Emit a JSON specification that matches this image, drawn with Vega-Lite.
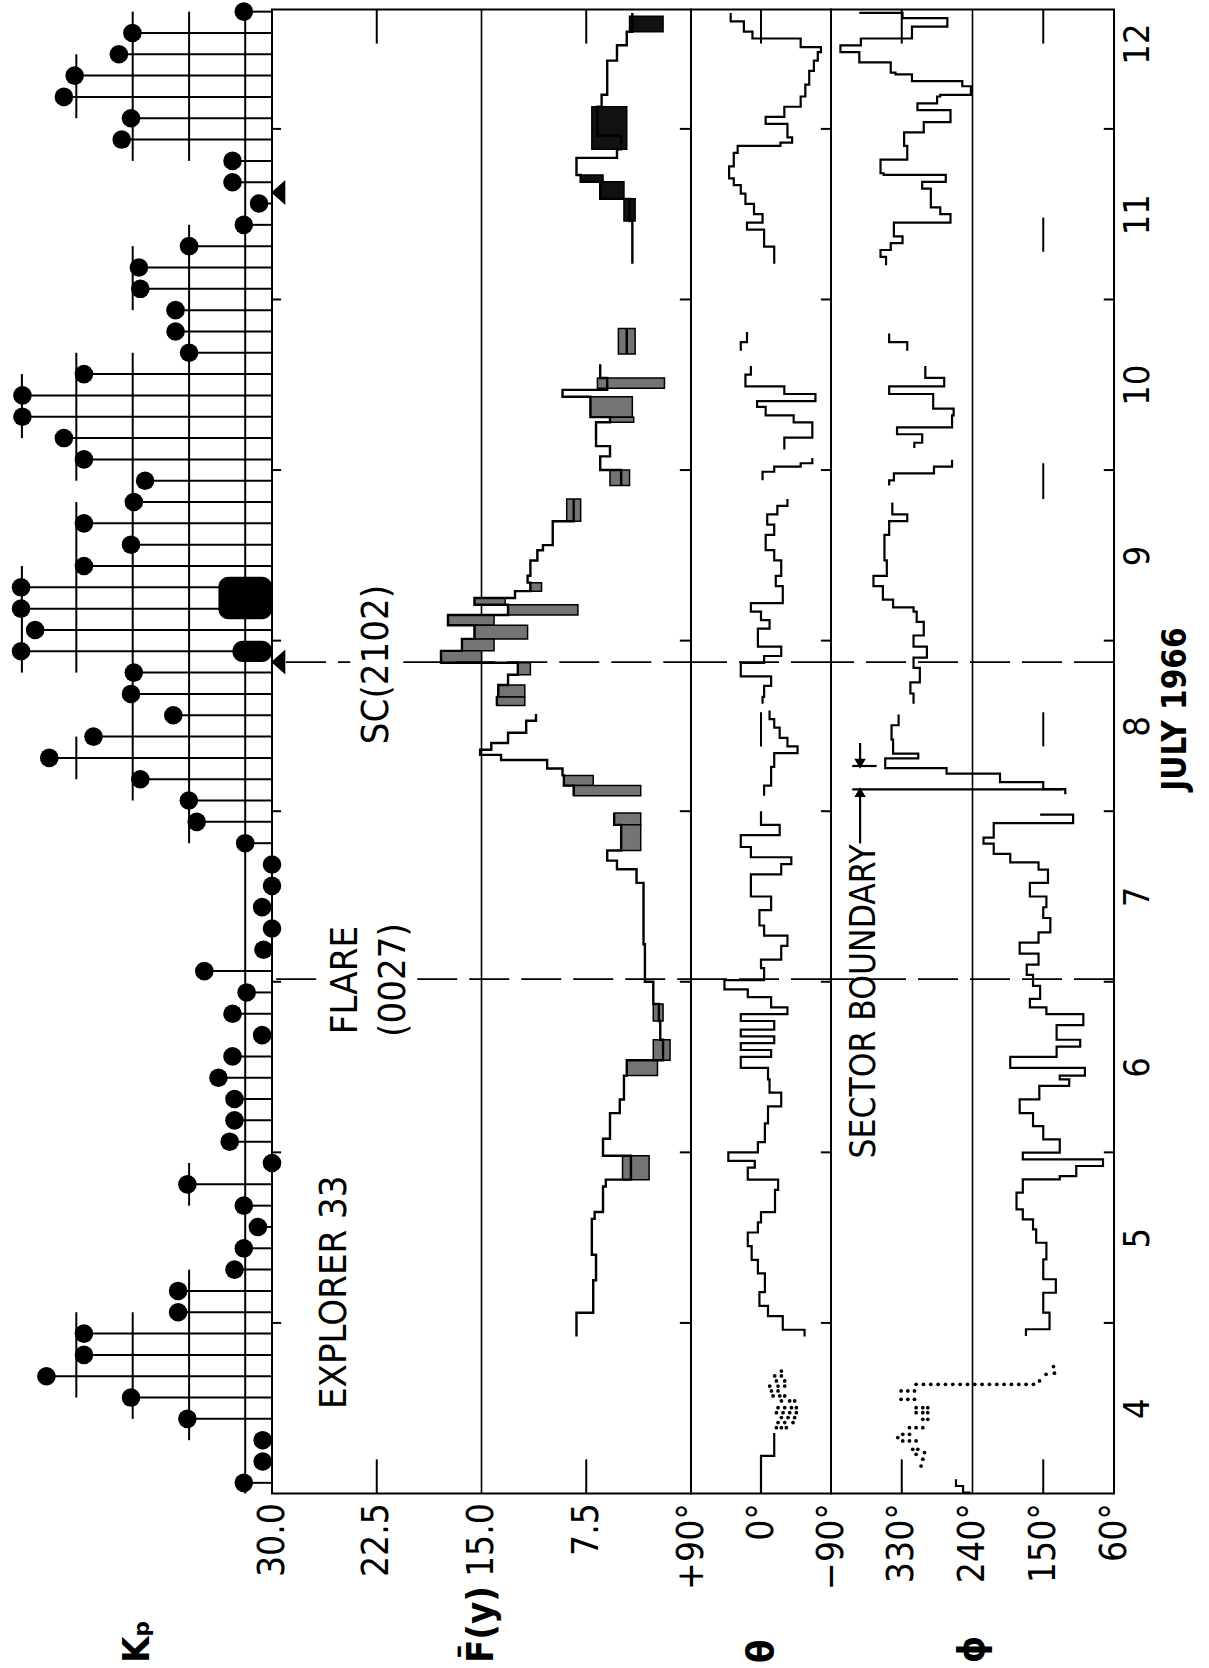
{
  "$schema": "https://vega.github.io/schema/vega-lite/v6.json",
  "background": "white",
  "padding": {"left": 3, "top": 1.5, "right": 5, "bottom": 2},
  "bounds": "flush",
  "spacing": 0,
  "config": {
    "font": "DejaVu Sans Condensed, DejaVu Sans, sans-serif",
    "view": {"stroke": null},
    "axis": {
      "grid": false, "ticks": false, "domain": false,
      "labelColor": "black", "titleColor": "black",
      "labelFontSize": 37, "titleFontSize": 38, "titleFontWeight": "bold",
      "labelFlush": false, "labelOverlap": false, "labelBound": false
    }
  },
  "datasets": {
    "kp": [
      {"d":3.5625,"kp":1},{"d":3.6875,"kp":0.33},{"d":3.8125,"kp":0.33},{"d":3.9375,"kp":3},{"d":4.0625,"kp":5},
      {"d":4.1875,"kp":8},{"d":4.3125,"kp":6.67},{"d":4.4375,"kp":6.67},{"d":4.5625,"kp":3.33},{"d":4.6875,"kp":3.33},
      {"d":4.8125,"kp":1.33},{"d":4.9375,"kp":1},{"d":5.0625,"kp":0.5},{"d":5.1875,"kp":1},{"d":5.3125,"kp":3},
      {"d":5.4375,"kp":0},{"d":5.5625,"kp":1.5},{"d":5.6875,"kp":1.33},{"d":5.8125,"kp":1.33},{"d":5.9375,"kp":1.9},
      {"d":6.0625,"kp":1.4},{"d":6.1875,"kp":0.35},{"d":6.3125,"kp":1.4},{"d":6.4375,"kp":0.9},{"d":6.5625,"kp":2.4},
      {"d":6.6875,"kp":0.3},{"d":6.8125,"kp":0},{"d":6.9375,"kp":0.35},{"d":7.0625,"kp":0},{"d":7.1875,"kp":0},
      {"d":7.3125,"kp":0.95},{"d":7.4375,"kp":2.67},{"d":7.5625,"kp":2.95},{"d":7.6875,"kp":4.67},{"d":7.8125,"kp":7.9},
      {"d":7.9375,"kp":6.33},{"d":8.0625,"kp":3.5},{"d":8.1875,"kp":5},{"d":8.3125,"kp":4.9},{"d":8.4375,"kp":8.9},
      {"d":8.5625,"kp":8.4},{"d":8.6875,"kp":8.9},{"d":8.8125,"kp":8.9},{"d":8.9375,"kp":6.67},{"d":9.0625,"kp":5},
      {"d":9.1875,"kp":6.67},{"d":9.3125,"kp":4.9},{"d":9.4375,"kp":4.5},{"d":9.5625,"kp":6.67},{"d":9.6875,"kp":7.38},
      {"d":9.8125,"kp":8.85},{"d":9.9375,"kp":8.85},{"d":10.0625,"kp":6.67},{"d":10.1875,"kp":2.94},{"d":10.3125,"kp":3.42},
      {"d":10.4375,"kp":3.42},{"d":10.5625,"kp":4.67},{"d":10.6875,"kp":4.72},{"d":10.8125,"kp":2.94},{"d":10.9375,"kp":1},
      {"d":11.0625,"kp":0.46},{"d":11.1875,"kp":1.4},{"d":11.3125,"kp":1.4},{"d":11.4375,"kp":5.33},{"d":11.5625,"kp":5},
      {"d":11.6875,"kp":7.38},{"d":11.8125,"kp":7},{"d":11.9375,"kp":5.43},{"d":12.0625,"kp":4.95},{"d":12.1875,"kp":1}
    ],
    "kpgrid": [
      {"lev":0.95,"d0":3.5,"d1":12.2},
      {"lev":2.94,"d0":3.8125,"d1":4.8125},{"lev":2.94,"d0":5.1875,"d1":5.4375},{"lev":2.94,"d0":7.3125,"d1":10.9375},{"lev":2.94,"d0":11.3125,"d1":12.1875},
      {"lev":4.94,"d0":3.9375,"d1":4.5625},{"lev":4.94,"d0":7.5625,"d1":10.1875},{"lev":4.94,"d0":10.4375,"d1":10.8125},{"lev":4.94,"d0":11.3125,"d1":12.1875},
      {"lev":6.94,"d0":4.0625,"d1":4.5625},{"lev":6.94,"d0":7.6875,"d1":7.9375},{"lev":6.94,"d0":8.3125,"d1":9.3125},{"lev":6.94,"d0":9.4375,"d1":10.1875},{"lev":6.94,"d0":11.5625,"d1":11.9375},
      {"lev":8.87,"d0":8.3125,"d1":8.9375},{"lev":8.87,"d0":9.6875,"d1":10.0625}
    ],
    "kpblob": [{"d0":8.625,"d1":8.875,"kp":1.9},{"d0":8.375,"d1":8.5,"kp":1.4}],
    "halfdays": [{"d":4.5},{"d":5.5},{"d":6.5},{"d":7.5},{"d":8.5},{"d":9.5},{"d":10.5},{"d":11.5}],
    "events": [{"d":6.515},{"d":8.374}],
    "fline": [
      {"s":"A","d":10.71,"v":4.2},{"s":"A","d":10.96,"v":4.4},{"s":"A","d":11.09,"v":6.5},{"s":"A","d":11.19,"v":7.9},{"s":"A","d":11.23,"v":8.2},
      {"s":"A","d":11.33,"v":5.3},{"s":"A","d":11.38,"v":5.0},{"s":"A","d":11.46,"v":6.7},{"s":"A","d":11.63,"v":6.4},{"s":"A","d":11.70,"v":6.0},
      {"s":"A","d":11.90,"v":5.3},{"s":"A","d":11.99,"v":4.6},{"s":"A","d":12.07,"v":4.2},{"s":"A","d":12.18,"v":4.2},
      {"s":"B1","d":10.18,"v":4.6},{"s":"B1","d":10.33,"v":4.6},
      {"s":"B2","d":9.41,"v":5.0},{"s":"B2","d":9.50,"v":6.5},{"s":"B2","d":9.58,"v":5.8},{"s":"B2","d":9.64,"v":6.8},{"s":"B2","d":9.78,"v":5.8},
      {"s":"B2","d":9.81,"v":7.2},{"s":"B2","d":9.93,"v":9.2},{"s":"B2","d":9.97,"v":6.0},{"s":"B2","d":10.04,"v":6.5},{"s":"B2","d":10.12,"v":6.5},
      {"s":"C","d":8.12,"v":13.9},{"s":"C","d":8.17,"v":13.8},{"s":"C","d":8.24,"v":13.1},{"s":"C","d":8.30,"v":12.4},{"s":"C","d":8.37,"v":17.9},
      {"s":"C","d":8.44,"v":16.4},{"s":"C","d":8.51,"v":15.5},{"s":"C","d":8.59,"v":17.4},{"s":"C","d":8.65,"v":13.1},{"s":"C","d":8.71,"v":15.5},
      {"s":"C","d":8.75,"v":12.6},{"s":"C","d":8.79,"v":11.5},{"s":"C","d":8.84,"v":11.7},{"s":"C","d":8.88,"v":11.5},{"s":"C","d":8.97,"v":11.0},
      {"s":"C","d":9.03,"v":10.6},{"s":"C","d":9.06,"v":9.9},{"s":"C","d":9.20,"v":8.4},{"s":"C","d":9.33,"v":8.4},
      {"s":"D","d":7.59,"v":8.4},{"s":"D","d":7.65,"v":9.1},{"s":"D","d":7.71,"v":9.2},{"s":"D","d":7.75,"v":10.3},{"s":"D","d":7.80,"v":13.6},
      {"s":"D","d":7.83,"v":15.1},{"s":"D","d":7.86,"v":14.3},{"s":"D","d":7.90,"v":13.1},{"s":"D","d":7.96,"v":11.8},{"s":"D","d":8.03,"v":11.1},{"s":"D","d":8.07,"v":11.1},
      {"s":"E","d":4.42,"v":8.2},{"s":"E","d":4.56,"v":7.0},{"s":"E","d":4.75,"v":6.8},{"s":"E","d":4.90,"v":7.1},{"s":"E","d":5.11,"v":6.9},
      {"s":"E","d":5.15,"v":6.3},{"s":"E","d":5.30,"v":6.1},{"s":"E","d":5.34,"v":4.3},{"s":"E","d":5.48,"v":6.3},{"s":"E","d":5.58,"v":5.8},
      {"s":"E","d":5.73,"v":5.1},{"s":"E","d":5.81,"v":4.8},{"s":"E","d":5.95,"v":4.6},{"s":"E","d":6.04,"v":2.0},{"s":"E","d":6.16,"v":2.2},
      {"s":"E","d":6.27,"v":2.3},{"s":"E","d":6.37,"v":2.7},{"s":"E","d":6.50,"v":3.3},{"s":"E","d":6.72,"v":3.4},{"s":"E","d":7.08,"v":3.9},
      {"s":"E","d":7.16,"v":5.3},{"s":"E","d":7.21,"v":6.0},{"s":"E","d":7.27,"v":5.0},{"s":"E","d":7.42,"v":5.5},{"s":"E","d":7.49,"v":5.5}
    ],
    "fhatch": [
      {"d0":12.07,"d1":12.16,"lo":2.0,"hi":4.4,"tone":"solid"},{"d0":11.38,"d1":11.63,"lo":4.6,"hi":7.1,"tone":"solid"},
      {"d0":11.19,"d1":11.23,"lo":6.3,"hi":7.9,"tone":"solid"},{"d0":11.09,"d1":11.19,"lo":4.8,"hi":6.5,"tone":"solid"},
      {"d0":10.96,"d1":11.09,"lo":4.0,"hi":4.8,"tone":"solid"},
      {"d0":10.18,"d1":10.33,"lo":4.0,"hi":5.2,"tone":"hatch"},{"d0":9.98,"d1":10.04,"lo":1.9,"hi":6.7,"tone":"hatch"},
      {"d0":9.81,"d1":9.93,"lo":4.2,"hi":7.2,"tone":"hatch"},{"d0":9.78,"d1":9.81,"lo":4.1,"hi":5.8,"tone":"hatch"},
      {"d0":9.41,"d1":9.50,"lo":4.4,"hi":5.8,"tone":"hatch"},{"d0":9.20,"d1":9.33,"lo":7.9,"hi":8.9,"tone":"hatch"},
      {"d0":8.79,"d1":8.84,"lo":10.7,"hi":11.5,"tone":"hatch"},{"d0":8.71,"d1":8.75,"lo":13.3,"hi":15.5,"tone":"hatch"},
      {"d0":8.65,"d1":8.71,"lo":8.1,"hi":13.1,"tone":"hatch"},{"d0":8.59,"d1":8.65,"lo":14.1,"hi":17.4,"tone":"hatch"},
      {"d0":8.51,"d1":8.59,"lo":11.7,"hi":15.5,"tone":"hatch"},{"d0":8.44,"d1":8.51,"lo":14.1,"hi":16.4,"tone":"hatch"},
      {"d0":8.37,"d1":8.44,"lo":15.0,"hi":17.9,"tone":"hatch"},{"d0":8.30,"d1":8.37,"lo":11.5,"hi":12.4,"tone":"hatch"},
      {"d0":8.17,"d1":8.24,"lo":11.9,"hi":13.8,"tone":"hatch"},{"d0":8.12,"d1":8.17,"lo":11.9,"hi":13.9,"tone":"hatch"},
      {"d0":7.65,"d1":7.71,"lo":7.0,"hi":9.1,"tone":"hatch"},{"d0":7.59,"d1":7.65,"lo":3.6,"hi":8.4,"tone":"hatch"},
      {"d0":7.42,"d1":7.49,"lo":3.6,"hi":5.5,"tone":"hatch"},{"d0":7.27,"d1":7.42,"lo":3.6,"hi":5.0,"tone":"hatch"},
      {"d0":6.27,"d1":6.37,"lo":2.0,"hi":2.7,"tone":"hatch"},{"d0":6.04,"d1":6.16,"lo":1.5,"hi":2.7,"tone":"hatch"},
      {"d0":5.95,"d1":6.04,"lo":2.4,"hi":4.6,"tone":"hatch"},{"d0":5.34,"d1":5.48,"lo":3.0,"hi":4.9,"tone":"hatch"}
    ],
    "fmarks": [
      {"v":22.5,"d0":3.5,"d1":3.7},{"v":22.5,"d0":12.0,"d1":12.2},{"v":7.5,"d0":3.5,"d1":3.7},{"v":7.5,"d0":12.0,"d1":12.2}
    ],
    "fdash": [
      {"d":6.515,"a":29.7,"b":26.3},{"d":6.515,"a":19.6,"b":0},{"d":8.374,"a":29.0,"b":24.4},{"d":8.374,"a":20.6,"b":0}
    ],
    "sctri": [{"d":8.374,"v":29.55},{"d":11.127,"v":29.55}],
    "ftext": [
      {"t":"EXPLORER 33","v":25.5,"d":4.68},{"t":"FLARE","v":24.7,"d":6.51},{"t":"(0027)","v":21.3,"d":6.51},{"t":"SC(2102)","v":22.5,"d":8.36}
    ],
    "tline": [
      {"s":"A","d":10.71,"v":-17},{"s":"A","d":10.81,"v":-4},{"s":"A","d":10.91,"v":18},{"s":"A","d":10.95,"v":-2},{"s":"A","d":11.00,"v":9},
      {"s":"A","d":11.06,"v":20},{"s":"A","d":11.12,"v":26},{"s":"A","d":11.17,"v":35},{"s":"A","d":11.21,"v":41},{"s":"A","d":11.28,"v":35},
      {"s":"A","d":11.36,"v":30},{"s":"A","d":11.40,"v":-25},{"s":"A","d":11.42,"v":-40},{"s":"A","d":11.45,"v":-34},{"s":"A","d":11.53,"v":-6},
      {"s":"A","d":11.57,"v":-30},{"s":"A","d":11.63,"v":-51},{"s":"A","d":11.69,"v":-57},{"s":"A","d":11.76,"v":-62},{"s":"A","d":11.84,"v":-68},
      {"s":"A","d":11.90,"v":-73},{"s":"A","d":11.95,"v":-77},{"s":"A","d":11.98,"v":-51},{"s":"A","d":12.03,"v":11},{"s":"A","d":12.07,"v":22},
      {"s":"A","d":12.13,"v":39},{"s":"A","d":12.18,"v":39},
      {"s":"B1","d":10.20,"v":26},{"s":"B1","d":10.25,"v":18},{"s":"B1","d":10.31,"v":18},
      {"s":"B2","d":9.62,"v":-30},{"s":"B2","d":9.69,"v":-66},{"s":"B2","d":9.78,"v":-42},{"s":"B2","d":9.82,"v":-6},{"s":"B2","d":9.87,"v":5},
      {"s":"B2","d":9.904,"v":-70},{"s":"B2","d":9.946,"v":-30},{"s":"B2","d":9.99,"v":20},{"s":"B2","d":10.06,"v":13},{"s":"B2","d":10.11,"v":13},
      {"s":"B3","d":9.44,"v":-2},{"s":"B3","d":9.49,"v":-17},{"s":"B3","d":9.52,"v":-51},{"s":"B3","d":9.54,"v":-66},{"s":"B3","d":9.57,"v":-66},
      {"s":"C","d":8.13,"v":-2},{"s":"C","d":8.17,"v":-4},{"s":"C","d":8.235,"v":-13},{"s":"C","d":8.29,"v":26},{"s":"C","d":8.37,"v":-4},
      {"s":"C","d":8.41,"v":-26},{"s":"C","d":8.465,"v":4},{"s":"C","d":8.57,"v":-11},{"s":"C","d":8.62,"v":0},{"s":"C","d":8.67,"v":13},
      {"s":"C","d":8.72,"v":-28},{"s":"C","d":8.82,"v":-19},{"s":"C","d":8.88,"v":-26},{"s":"C","d":8.97,"v":-17},{"s":"C","d":9.03,"v":-6},
      {"s":"C","d":9.12,"v":-17},{"s":"C","d":9.18,"v":-8},{"s":"C","d":9.24,"v":-21},{"s":"C","d":9.29,"v":-34},{"s":"C","d":9.33,"v":-34},
      {"s":"D","d":7.59,"v":-4},{"s":"D","d":7.65,"v":-13},{"s":"D","d":7.76,"v":-17},{"s":"D","d":7.84,"v":-47},{"s":"D","d":7.88,"v":-34},
      {"s":"D","d":7.93,"v":-24},{"s":"D","d":7.99,"v":-17},{"s":"D","d":8.04,"v":-11},{"s":"D","d":8.09,"v":-11},
      {"s":"E","d":4.42,"v":-56},{"s":"E","d":4.46,"v":-28},{"s":"E","d":4.54,"v":-9},{"s":"E","d":4.60,"v":2},{"s":"E","d":4.68,"v":-5},
      {"s":"E","d":4.79,"v":4},{"s":"E","d":4.87,"v":12},{"s":"E","d":4.95,"v":17},{"s":"E","d":5.03,"v":4},{"s":"E","d":5.09,"v":0},
      {"s":"E","d":5.15,"v":-18},{"s":"E","d":5.28,"v":-22},{"s":"E","d":5.34,"v":17},{"s":"E","d":5.41,"v":8},{"s":"E","d":5.45,"v":42},
      {"s":"E","d":5.50,"v":4},{"s":"E","d":5.56,"v":-5},{"s":"E","d":5.67,"v":-9},{"s":"E","d":5.77,"v":-26},{"s":"E","d":5.85,"v":-11},
      {"s":"E","d":5.928,"v":-9},{"s":"E","d":5.995,"v":26},{"s":"E","d":6.06,"v":-13},{"s":"E","d":6.10,"v":26},{"s":"E","d":6.14,"v":-17},
      {"s":"E","d":6.18,"v":26},{"s":"E","d":6.22,"v":-17},{"s":"E","d":6.27,"v":26},{"s":"E","d":6.31,"v":-34},{"s":"E","d":6.35,"v":-13},
      {"s":"E","d":6.41,"v":17},{"s":"E","d":6.455,"v":47},{"s":"E","d":6.51,"v":-4},{"s":"E","d":6.58,"v":0},{"s":"E","d":6.63,"v":-26},
      {"s":"E","d":6.71,"v":-34},{"s":"E","d":6.77,"v":-4},{"s":"E","d":6.83,"v":2},{"s":"E","d":6.92,"v":-13},{"s":"E","d":7.00,"v":13},
      {"s":"E","d":7.13,"v":-26},{"s":"E","d":7.19,"v":-39},{"s":"E","d":7.23,"v":13},{"s":"E","d":7.29,"v":26},{"s":"E","d":7.36,"v":-24},
      {"s":"E","d":7.42,"v":0},{"s":"E","d":7.50,"v":0},
      {"s":"F","d":3.50,"v":0},{"s":"F","d":3.72,"v":-17},{"s":"F","d":3.855,"v":-17}
    ],
    "tdots": [
      {"d":4.218,"v":-26.2},{"d":4.189,"v":-17.6},{"d":4.189,"v":-26.2},{"d":4.160,"v":-19.8},{"d":4.160,"v":-30.5},
      {"d":4.130,"v":-11.2},{"d":4.130,"v":-21.9},{"d":4.130,"v":-30.5},{"d":4.101,"v":-13.4},{"d":4.101,"v":-21.9},
      {"d":4.072,"v":-15.5},{"d":4.072,"v":-24.1},{"d":4.072,"v":-30.5},{"d":4.043,"v":-26.2},{"d":4.043,"v":-36.9},{"d":4.043,"v":-43.3},
      {"d":4.003,"v":-21.9},{"d":4.003,"v":-30.5},{"d":4.003,"v":-39.1},{"d":4.003,"v":-45.5},
      {"d":3.974,"v":-19.8},{"d":3.974,"v":-28.3},{"d":3.974,"v":-36.9},{"d":3.974,"v":-45.5},
      {"d":3.945,"v":-26.2},{"d":3.945,"v":-34.8},{"d":3.945,"v":-43.3},
      {"d":3.916,"v":-21.9},{"d":3.916,"v":-30.5},{"d":3.916,"v":-41.2},
      {"d":3.886,"v":-19.8},{"d":3.886,"v":-26.2},{"d":3.886,"v":-32.6}
    ],
    "tmarks": [{"v":0,"d0":3.5,"d1":3.7},{"v":0,"d0":12.0,"d1":12.2},{"v":0,"d0":7.88,"d1":8.08}],
    "pline": [
      {"s":"A","d":10.70,"v":350},{"s":"A","d":10.75,"v":357},{"s":"A","d":10.79,"v":344},{"s":"A","d":10.83,"v":329},{"s":"A","d":10.87,"v":340},
      {"s":"A","d":10.95,"v":268},{"s":"A","d":11.00,"v":281},{"s":"A","d":11.04,"v":293},{"s":"A","d":11.15,"v":304},{"s":"A","d":11.19,"v":274},
      {"s":"A","d":11.23,"v":353},{"s":"A","d":11.24,"v":357},{"s":"A","d":11.32,"v":323},{"s":"A","d":11.40,"v":327},{"s":"A","d":11.48,"v":302},
      {"s":"A","d":11.54,"v":268},{"s":"A","d":11.61,"v":310},{"s":"A","d":11.65,"v":285},{"s":"A","d":11.69,"v":281},{"s":"A","d":11.70,"v":242},
      {"s":"A","d":11.75,"v":253},{"s":"A","d":11.78,"v":317},{"s":"A","d":11.82,"v":338},{"s":"A","d":11.83,"v":344},{"s":"A","d":11.89,"v":384},
      {"s":"A","d":11.95,"v":408},{"s":"A","d":11.99,"v":382},{"s":"A","d":12.03,"v":317},{"s":"A","d":12.10,"v":272},{"s":"A","d":12.15,"v":329},
      {"s":"A","d":12.18,"v":384},
      {"s":"B1","d":10.20,"v":323},{"s":"B1","d":10.25,"v":346},{"s":"B1","d":10.30,"v":346},
      {"s":"B2","d":9.63,"v":314},{"s":"B2","d":9.66,"v":304},{"s":"B2","d":9.71,"v":336},{"s":"B2","d":9.75,"v":266},{"s":"B2","d":9.82,"v":264},
      {"s":"B2","d":9.86,"v":290},{"s":"B2","d":9.946,"v":346},{"s":"B2","d":9.99,"v":276},{"s":"B2","d":10.04,"v":300},{"s":"B2","d":10.11,"v":300},
      {"s":"B3","d":9.41,"v":346},{"s":"B3","d":9.44,"v":340},{"s":"B3","d":9.48,"v":289},{"s":"B3","d":9.52,"v":266},{"s":"B3","d":9.56,"v":266},
      {"s":"C","d":8.13,"v":315},{"s":"C","d":8.19,"v":319},{"s":"C","d":8.255,"v":307},{"s":"C","d":8.34,"v":315},{"s":"C","d":8.40,"v":298},
      {"s":"C","d":8.465,"v":315},{"s":"C","d":8.53,"v":302},{"s":"C","d":8.61,"v":311},{"s":"C","d":8.67,"v":315},{"s":"C","d":8.695,"v":341},
      {"s":"C","d":8.74,"v":354},{"s":"C","d":8.82,"v":366},{"s":"C","d":8.88,"v":349},{"s":"C","d":8.97,"v":352},{"s":"C","d":9.12,"v":346},
      {"s":"C","d":9.20,"v":323},{"s":"C","d":9.24,"v":342},{"s":"C","d":9.31,"v":342},
      {"s":"D","d":7.60,"v":122},{"s":"D","d":7.63,"v":150},{"s":"D","d":7.67,"v":205},{"s":"D","d":7.72,"v":273},{"s":"D","d":7.753,"v":351},
      {"s":"D","d":7.81,"v":309},{"s":"D","d":7.837,"v":341},{"s":"D","d":7.92,"v":343},{"s":"D","d":8.004,"v":334},{"s":"D","d":8.067,"v":334},
      {"s":"E","d":4.423,"v":172},{"s":"E","d":4.463,"v":142},{"s":"E","d":4.56,"v":150},{"s":"E","d":4.677,"v":134},{"s":"E","d":4.756,"v":150},
      {"s":"E","d":4.873,"v":146},{"s":"E","d":4.97,"v":159},{"s":"E","d":5.049,"v":163},{"s":"E","d":5.107,"v":176},{"s":"E","d":5.166,"v":184},
      {"s":"E","d":5.264,"v":176},{"s":"E","d":5.342,"v":129},{"s":"E","d":5.361,"v":108},{"s":"E","d":5.42,"v":74},{"s":"E","d":5.459,"v":176},
      {"s":"E","d":5.498,"v":129},{"s":"E","d":5.576,"v":150},{"s":"E","d":5.654,"v":163},{"s":"E","d":5.73,"v":180},{"s":"E","d":5.81,"v":155},
      {"s":"E","d":5.89,"v":117},{"s":"E","d":5.928,"v":129},{"s":"E","d":5.95,"v":97},{"s":"E","d":5.995,"v":192},{"s":"E","d":6.06,"v":133},
      {"s":"E","d":6.12,"v":103},{"s":"E","d":6.16,"v":133},{"s":"E","d":6.246,"v":99},{"s":"E","d":6.31,"v":146},{"s":"E","d":6.35,"v":167},
      {"s":"E","d":6.40,"v":154},{"s":"E","d":6.476,"v":163},{"s":"E","d":6.54,"v":171},{"s":"E","d":6.60,"v":156},{"s":"E","d":6.665,"v":180},
      {"s":"E","d":6.73,"v":156},{"s":"E","d":6.79,"v":141},{"s":"E","d":6.874,"v":150},{"s":"E","d":6.937,"v":146},{"s":"E","d":7.00,"v":167},
      {"s":"E","d":7.08,"v":144},{"s":"E","d":7.157,"v":156},{"s":"E","d":7.20,"v":192},{"s":"E","d":7.25,"v":213},{"s":"E","d":7.31,"v":226},
      {"s":"E","d":7.345,"v":213},{"s":"E","d":7.43,"v":112},{"s":"E","d":7.48,"v":154},
      {"s":"F","d":3.50,"v":244},{"s":"F","d":3.505,"v":252},{"s":"F","d":3.544,"v":261},{"s":"F","d":3.583,"v":261}
    ],
    "pdots": [
      {"d":4.140,"v":311.7},{"d":4.140,"v":302.4},{"d":4.140,"v":293.1},{"d":4.140,"v":283.7},{"d":4.140,"v":274.4},{"d":4.140,"v":265.1},
      {"d":4.140,"v":255.8},{"d":4.140,"v":246.4},{"d":4.140,"v":237.1},{"d":4.140,"v":227.8},{"d":4.140,"v":218.4},{"d":4.140,"v":209.1},
      {"d":4.140,"v":199.8},{"d":4.140,"v":190.5},{"d":4.140,"v":181.1},{"d":4.140,"v":171.8},{"d":4.140,"v":162.5},
      {"d":4.160,"v":154.8},{"d":4.199,"v":146.4},{"d":4.205,"v":135.8},{"d":4.244,"v":137.0},
      {"d":4.101,"v":330.8},{"d":4.101,"v":322.3},{"d":4.101,"v":313.8},{"d":4.052,"v":330.8},{"d":4.052,"v":322.3},{"d":4.052,"v":313.8},
      {"d":4.003,"v":311.7},{"d":4.003,"v":303.2},{"d":4.003,"v":296.9},{"d":3.974,"v":311.7},{"d":3.974,"v":303.2},{"d":3.974,"v":296.9},
      {"d":3.935,"v":303.2},{"d":3.935,"v":296.9},{"d":3.886,"v":320.2},{"d":3.886,"v":311.7},{"d":3.886,"v":303.2},
      {"d":3.847,"v":328.7},{"d":3.847,"v":320.2},{"d":3.828,"v":335.0},{"d":3.808,"v":328.7},{"d":3.808,"v":320.2},{"d":3.808,"v":311.7},
      {"d":3.759,"v":316.0},{"d":3.759,"v":309.6},{"d":3.730,"v":311.7},{"d":3.740,"v":301.1},{"d":3.701,"v":303.2},{"d":3.661,"v":305.4}
    ],
    "pmarks": [
      {"v":330,"d0":3.5,"d1":3.7},{"v":330,"d0":12.0,"d1":12.2},{"v":150,"d0":3.5,"d1":3.7},{"v":150,"d0":12.0,"d1":12.2},
      {"v":150,"d0":10.78,"d1":10.98},{"v":150,"d0":9.33,"d1":9.54},{"v":150,"d0":7.88,"d1":8.08}
    ],
    "sector": [
      {"a":383,"b":383,"d0":7.311,"d1":7.60},{"a":393,"b":125,"d0":7.628,"d1":7.628},
      {"a":383,"b":383,"d0":7.79,"d1":7.90},{"a":393,"b":362,"d0":7.765,"d1":7.765}
    ],
    "sectorhead": [{"v":383,"d":7.612,"sh":"triangle-up"},{"v":383,"d":7.778,"sh":"triangle-down"}],
    "ptext": [{"t":"SECTOR BOUNDARY","v":378,"d":6.385}]
  },
  "hconcat": [
    {
      "width": 269, "height": 1484,
      "layer": [
        {
          "data": {"name": "kpgrid"},
          "mark": {"type": "rule", "strokeWidth": 2, "color": "black"},
          "encoding": {
            "x": {"field": "lev", "type": "quantitative", "scale": {"domain": [0, 9.54], "reverse": true, "nice": false, "zero": false},
                  "axis": {"labels": false, "title": "K\u209a", "titleAngle": 270, "titleAlign": "left", "titleBaseline": "middle", "titleY": 169}},
            "y": {"field": "d0", "type": "quantitative", "scale": {"domain": [3.5, 12.2], "nice": false, "zero": false}, "axis": null},
            "y2": {"field": "d1"}
          }
        },
        {
          "data": {"name": "kp"},
          "mark": {"type": "rule", "strokeWidth": 2, "color": "black"},
          "encoding": {
            "x": {"field": "kp", "type": "quantitative"},
            "x2": {"datum": 0},
            "y": {"field": "d", "type": "quantitative", "axis": null}
          }
        },
        {
          "data": {"name": "kpblob"},
          "mark": {"type": "rect", "cornerRadius": 10, "color": "black"},
          "encoding": {
            "x": {"field": "kp", "type": "quantitative"},
            "x2": {"datum": 0},
            "y": {"field": "d0", "type": "quantitative", "axis": null},
            "y2": {"field": "d1"}
          }
        },
        {
          "data": {"name": "kp"},
          "mark": {"type": "circle", "size": 346, "opacity": 1, "color": "black"},
          "encoding": {
            "x": {"field": "kp", "type": "quantitative"},
            "y": {"field": "d", "type": "quantitative", "axis": null}
          }
        }
      ]
    },
    {
      "width": 419, "height": 1484,
      "view": {"stroke": "black", "strokeWidth": 2},
      "layer": [
        {
          "data": {"values": [{"v": 15}]},
          "mark": {"type": "rule", "strokeWidth": 1.6, "color": "black"},
          "encoding": {
            "x": {"field": "v", "type": "quantitative", "scale": {"domain": [0, 30], "reverse": true, "nice": false, "zero": false},
                  "axis": {"values": [30, 22.5, 15, 7.5], "format": ".1f", "labelAngle": 270, "labelAlign": "right", "labelBaseline": "middle", "labelPadding": 9,
                           "title": "F\u0304(y)", "titleAngle": 270, "titleAlign": "left", "titleBaseline": "middle", "titleY": 169}}
          }
        },
        {
          "data": {"name": "fhatch"},
          "mark": {"type": "rect", "stroke": "black", "strokeWidth": 1.5},
          "encoding": {
            "x": {"field": "lo", "type": "quantitative"},
            "x2": {"field": "hi"},
            "y": {"field": "d0", "type": "quantitative", "scale": {"domain": [3.5, 12.2], "nice": false, "zero": false}, "axis": null},
            "y2": {"field": "d1"},
            "fill": {"field": "tone", "type": "nominal", "scale": {"domain": ["solid", "hatch"], "range": ["#111111", "#747474"]}, "legend": null}
          }
        },
        {
          "data": {"name": "fline"},
          "mark": {"type": "line", "interpolate": "step-before", "strokeWidth": 2.4, "color": "black"},
          "encoding": {
            "x": {"field": "v", "type": "quantitative"},
            "y": {"field": "d", "type": "quantitative", "axis": null},
            "detail": {"field": "s"},
            "order": {"field": "d", "type": "quantitative"}
          }
        },
        {
          "data": {"name": "fmarks"},
          "mark": {"type": "rule", "strokeWidth": 2, "color": "black"},
          "encoding": {
            "x": {"field": "v", "type": "quantitative"},
            "y": {"field": "d0", "type": "quantitative", "axis": null},
            "y2": {"field": "d1"}
          }
        },
        {
          "data": {"name": "halfdays"},
          "mark": {"type": "rule", "strokeWidth": 2, "color": "black"},
          "encoding": {
            "x": {"datum": 30, "type": "quantitative"}, "x2": {"datum": 29.35},
            "y": {"field": "d", "type": "quantitative", "axis": null}
          }
        },
        {
          "data": {"name": "halfdays"},
          "mark": {"type": "rule", "strokeWidth": 2, "color": "black"},
          "encoding": {
            "x": {"datum": 0, "type": "quantitative"}, "x2": {"datum": 0.8},
            "y": {"field": "d", "type": "quantitative", "axis": null}
          }
        },
        {
          "data": {"name": "fdash"},
          "mark": {"type": "rule", "strokeWidth": 1.8, "color": "black", "strokeDash": [40, 12]},
          "encoding": {
            "x": {"field": "a", "type": "quantitative"}, "x2": {"field": "b"},
            "y": {"field": "d", "type": "quantitative", "axis": null}
          }
        },
        {
          "data": {"name": "sctri"},
          "mark": {"type": "point", "shape": "M -0.56 0 L 0.56 -1 L 0.56 1 Z", "size": 625, "filled": true, "opacity": 1, "color": "black"},
          "encoding": {
            "x": {"field": "v", "type": "quantitative"},
            "y": {"field": "d", "type": "quantitative", "axis": null}
          }
        },
        {
          "data": {"name": "ftext"},
          "mark": {"type": "text", "angle": 270, "fontSize": 38, "align": "center", "baseline": "middle", "color": "black"},
          "encoding": {
            "x": {"field": "v", "type": "quantitative"},
            "y": {"field": "d", "type": "quantitative", "axis": null},
            "text": {"field": "t"}
          }
        }
      ]
    },
    {
      "width": 140, "height": 1484,
      "view": {"stroke": "black", "strokeWidth": 2},
      "layer": [
        {
          "data": {"name": "events"},
          "mark": {"type": "rule", "strokeWidth": 1.8, "color": "black", "strokeDash": [40, 12]},
          "encoding": {
            "y": {"field": "d", "type": "quantitative", "scale": {"domain": [3.5, 12.2], "nice": false, "zero": false}, "axis": null}
          }
        },
        {
          "data": {"name": "tmarks"},
          "mark": {"type": "rule", "strokeWidth": 2, "color": "black"},
          "encoding": {
            "x": {"field": "v", "type": "quantitative", "scale": {"domain": [-90, 90], "reverse": true, "nice": false, "zero": false},
                  "axis": {"values": [90, 0, -90], "labelExpr": "datum.value > 0 ? '+90\u00b0' : (datum.value < 0 ? '\u221290\u00b0' : '0\u00b0')",
                           "labelAngle": 270, "labelAlign": "right", "labelBaseline": "middle", "labelPadding": 9,
                           "title": "\u03b8", "titleAngle": 270, "titleAlign": "left", "titleBaseline": "middle", "titleY": 169}},
            "y": {"field": "d0", "type": "quantitative", "axis": null},
            "y2": {"field": "d1"}
          }
        },
        {
          "data": {"name": "halfdays"},
          "mark": {"type": "rule", "strokeWidth": 2, "color": "black"},
          "encoding": {
            "x": {"datum": -90, "type": "quantitative"}, "x2": {"datum": -77},
            "y": {"field": "d", "type": "quantitative", "axis": null}
          }
        },
        {
          "data": {"name": "tline"},
          "mark": {"type": "line", "interpolate": "step-before", "strokeWidth": 2.2, "color": "black"},
          "encoding": {
            "x": {"field": "v", "type": "quantitative"},
            "y": {"field": "d", "type": "quantitative", "axis": null},
            "detail": {"field": "s"},
            "order": {"field": "d", "type": "quantitative"}
          }
        },
        {
          "data": {"name": "tdots"},
          "mark": {"type": "circle", "size": 14, "opacity": 1, "color": "black"},
          "encoding": {
            "x": {"field": "v", "type": "quantitative"},
            "y": {"field": "d", "type": "quantitative", "axis": null}
          }
        }
      ]
    },
    {
      "width": 283, "height": 1484,
      "view": {"stroke": "black", "strokeWidth": 2},
      "layer": [
        {
          "data": {"values": [{"v": 240}]},
          "mark": {"type": "rule", "strokeWidth": 1.6, "color": "black"},
          "encoding": {
            "x": {"field": "v", "type": "quantitative", "scale": {"domain": [60, 420], "reverse": true, "nice": false, "zero": false},
                  "axis": {"values": [330, 240, 150, 60], "labelExpr": "datum.value + '\u00b0'",
                           "labelAngle": 270, "labelAlign": "right", "labelBaseline": "middle", "labelPadding": 9,
                           "title": "\u03d5", "titleAngle": 270, "titleAlign": "left", "titleBaseline": "middle", "titleY": 169}}
          }
        },
        {
          "data": {"name": "events"},
          "mark": {"type": "rule", "strokeWidth": 1.8, "color": "black", "strokeDash": [40, 12]},
          "encoding": {
            "y": {"field": "d", "type": "quantitative", "scale": {"domain": [3.5, 12.2], "nice": false, "zero": false},
                  "axis": {"orient": "right", "values": [4, 5, 6, 7, 8, 9, 10, 11, 12], "format": "d", "labelFontSize": 36,
                           "labelAngle": 270, "labelAlign": "center", "labelBaseline": "top", "labelPadding": 6,
                           "title": "JULY 1966", "titleAngle": 270, "titleAlign": "center", "titleBaseline": "middle",
                           "titleX": 61, "titleY": 699, "titleFontSize": 33}}
          }
        },
        {
          "data": {"name": "pmarks"},
          "mark": {"type": "rule", "strokeWidth": 2, "color": "black"},
          "encoding": {
            "x": {"field": "v", "type": "quantitative"},
            "y": {"field": "d0", "type": "quantitative"},
            "y2": {"field": "d1"}
          }
        },
        {
          "data": {"name": "halfdays"},
          "mark": {"type": "rule", "strokeWidth": 2, "color": "black"},
          "encoding": {
            "x": {"datum": 60, "type": "quantitative"}, "x2": {"datum": 73},
            "y": {"field": "d", "type": "quantitative"}
          }
        },
        {
          "data": {"name": "pline"},
          "mark": {"type": "line", "interpolate": "step-before", "strokeWidth": 2.2, "color": "black"},
          "encoding": {
            "x": {"field": "v", "type": "quantitative"},
            "y": {"field": "d", "type": "quantitative"},
            "detail": {"field": "s"},
            "order": {"field": "d", "type": "quantitative"}
          }
        },
        {
          "data": {"name": "pdots"},
          "mark": {"type": "circle", "size": 14, "opacity": 1, "color": "black"},
          "encoding": {
            "x": {"field": "v", "type": "quantitative"},
            "y": {"field": "d", "type": "quantitative"}
          }
        },
        {
          "data": {"name": "sector"},
          "mark": {"type": "rule", "strokeWidth": 2.2, "color": "black"},
          "encoding": {
            "x": {"field": "a", "type": "quantitative"}, "x2": {"field": "b"},
            "y": {"field": "d0", "type": "quantitative"}, "y2": {"field": "d1"}
          }
        },
        {
          "data": {"name": "sectorhead"},
          "mark": {"type": "point", "size": 130, "filled": true, "opacity": 1, "color": "black"},
          "encoding": {
            "x": {"field": "v", "type": "quantitative"},
            "y": {"field": "d", "type": "quantitative"},
            "shape": {"field": "sh", "type": "nominal", "scale": null}
          }
        },
        {
          "data": {"name": "ptext"},
          "mark": {"type": "text", "angle": 270, "fontSize": 35, "align": "center", "baseline": "middle", "color": "black"},
          "encoding": {
            "x": {"field": "v", "type": "quantitative"},
            "y": {"field": "d", "type": "quantitative"},
            "text": {"field": "t"}
          }
        }
      ]
    }
  ]
}
